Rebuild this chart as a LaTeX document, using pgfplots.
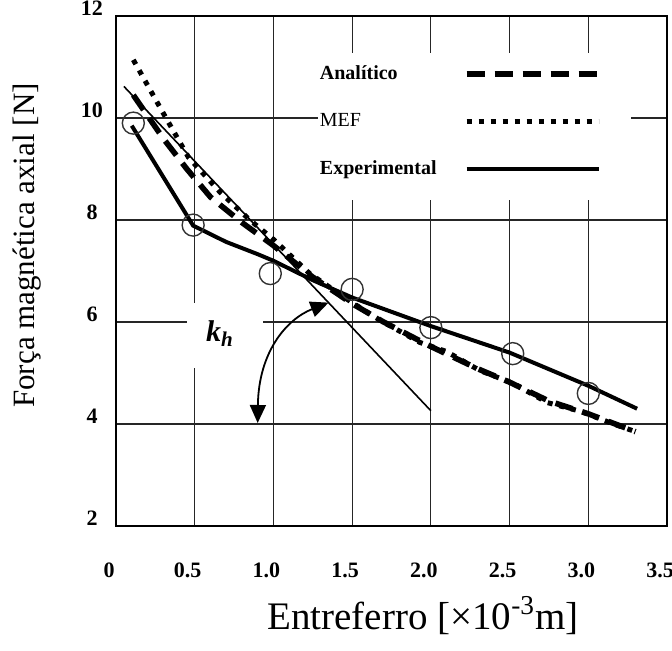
\documentclass[border=0pt]{standalone}
\usepackage{fontspec}
\setmainfont{Liberation Serif}
\usepackage{pgfplots}
\pgfplotsset{compat=1.18}
\usetikzlibrary{arrows.meta}

\begin{document}
\begin{tikzpicture}
\begin{axis}[
  at={(0,0)},anchor=south west,
  scale only axis,width=275.5pt,height=255pt,
  xmin=0,xmax=3.5,ymin=2,ymax=12,
  xtick={0,0.5,...,3.5},xticklabels={0,0.5,1.0,1.5,2.0,2.5,3.0,3.5},
  ytick={2,4,...,12},
  major tick length=0pt,
  grid=major,major grid style={black!85,line width=0.6pt},
  axis line style={line width=1.4pt},
  /pgf/number format/assume math mode=true,
  ticklabel style={font=\fontsize{11}{13}\selectfont\bfseries},
  xticklabel style={anchor=center,yshift=-22pt,xshift=-3.5pt},
  yticklabel style={anchor=center,xshift=-12pt,yshift=4pt},
  xlabel={Entreferro [×10\textsuperscript{-3}m]},
  ylabel={Força magnética axial [N]},
  xlabel style={at={(axis description cs:0.557,-0.175)},anchor=center,font=\fontsize{19.5}{22}\selectfont},
  ylabel style={at={(axis description cs:-0.162,0.55)},anchor=center,font=\fontsize{15.5}{18}\selectfont},
  legend plot pos=right,
  legend image code/.code={\draw[#1] (0pt,0pt) -- (66pt,0pt);},
  legend style={at={(axis cs:1.28,11.08)},anchor=north west,draw=none,fill=none,
    inner sep=0pt,row sep=13.5pt,font=\fontsize{10}{12}\selectfont\bfseries,nodes={inner sep=1pt}},
]
% white patches that break the grid behind legend and label
\fill[white] (axis cs:1.28,11.27) rectangle (axis cs:3.27,8.39);
\fill[white] (axis cs:0.45,6.38) rectangle (axis cs:0.935,5.1);

% Analitico
\addplot[black,line width=2.8pt,dash pattern=on 9pt off 5pt] coordinates {
(0.11,10.45) (0.3,9.6) (0.45,9.0) (0.6,8.45) (0.8,7.95) (1.0,7.5) (1.25,6.88)
(1.5,6.36) (1.7,6.0) (2.0,5.52) (2.3,5.08) (2.5,4.82) (2.75,4.45) (3.0,4.2) (3.3,3.85)};
\addlegendentry{\makebox[71pt][l]{Analítico}}

% MEF
\addplot[black,line width=2.5pt,dash pattern=on 2.5pt off 3.5pt] coordinates {
(0.11,11.14) (0.29,10.15) (0.46,9.23) (0.66,8.55) (0.85,8.0) (1.0,7.62) (1.23,6.95)
(1.5,6.38) (1.68,6.03) (1.93,5.6) (2.1,5.42) (2.31,5.05) (2.52,4.8) (2.74,4.42)
(2.95,4.25) (3.16,4.0) (3.3,3.85)};
\addlegendentry{\makebox[71pt][l]{\mdseries MEF}}

% Experimental
\addplot[black,line width=2pt] coordinates {
(0.1,9.85) (0.49,7.89) (0.7,7.57) (0.9,7.33) (1.0,7.2) (1.25,6.82) (1.5,6.48)
(2.0,5.92) (2.5,5.4) (3.0,4.75) (3.31,4.3)};
\addlegendentry{\makebox[71pt][l]{Experimental}}

% measured points
\addplot[black!80,only marks,mark=o,mark size=5.5pt,mark options={line width=0.7pt},forget plot] coordinates {
(0.11,9.9) (0.49,7.9) (0.98,6.95) (1.5,6.64) (2.0,5.89) (2.52,5.38) (3.0,4.6)};

% tangent k_h
\addplot[black,line width=0.8pt,forget plot] coordinates {(0.05,10.62) (2.0,4.26)};

\draw[line width=0.9pt,{Triangle[length=9pt,width=8pt]}-{Triangle[length=9pt,width=8pt]}]
  (axis cs:0.9,4.02) .. controls (axis cs:0.905,5.4) and (axis cs:1.08,6.05) .. (axis cs:1.35,6.38);
\node at (axis cs:0.66,5.77) {\fontsize{15}{15}\selectfont\bfseries\itshape k\textsubscript{h}};
\end{axis}
\pgfresetboundingbox
\path (-58pt,-62pt) rectangle (278pt,263pt);
\end{tikzpicture}
\end{document}
